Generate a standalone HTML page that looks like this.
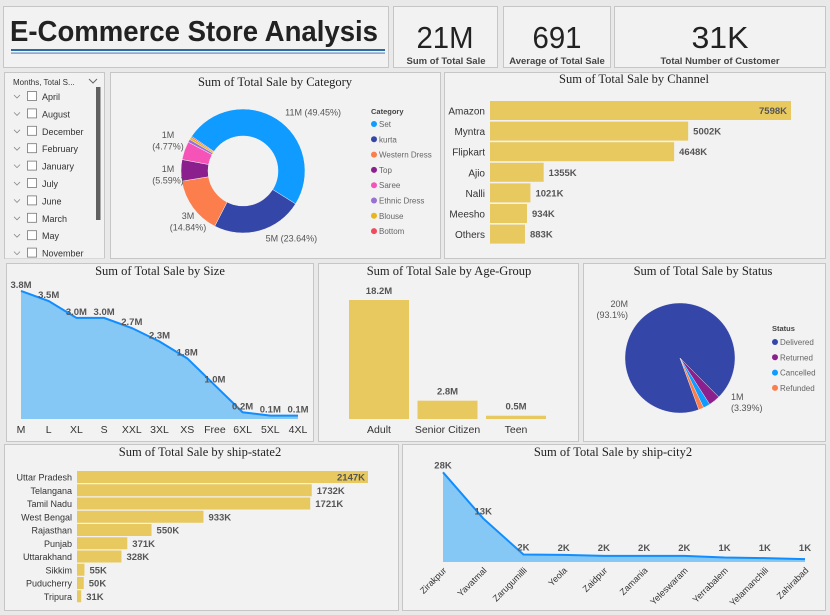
<!DOCTYPE html>
<html><head><meta charset="utf-8"><style>
html,body{margin:0;padding:0;background:#e9e9e9;width:830px;height:615px;overflow:hidden}
svg{display:block;font-family:"Liberation Sans",sans-serif}
.pn{fill:#f2f2f2;stroke:#c6c6c6;stroke-width:1}
.tt{font-family:"Liberation Serif",serif;font-size:12.5px;fill:#222;text-anchor:middle}
.lb{font-size:9.5px;fill:#555;font-weight:bold}
.ax{font-size:10.5px;fill:#333}
.lg{font-size:8px;fill:#666}
</style></head><body>
<svg id="dash" width="830" height="615" viewBox="0 0 830 615" xmlns="http://www.w3.org/2000/svg">
<rect x="0" y="0" width="830" height="615" fill="#e9e9e9"/>
<g>
<rect class="pn" x="3.5" y="6.5" width="385" height="61"/>
<text x="10" y="41" font-size="29" font-weight="bold" fill="#222" textLength="368" lengthAdjust="spacingAndGlyphs">E-Commerce Store Analysis</text>
<rect x="11" y="49" width="374" height="2" fill="#2f6aa3"/>
<rect x="11" y="52.5" width="374" height="1.2" fill="#5d8fc0"/>
</g>
<g>
<rect class="pn" x="393.5" y="6.5" width="104" height="61"/>
<text x="445" y="48" font-size="31" fill="#222" text-anchor="middle" textLength="57" lengthAdjust="spacingAndGlyphs">21M</text>
<text x="446" y="64" font-size="9.5" font-weight="bold" fill="#444" text-anchor="middle">Sum of Total Sale</text>
</g>
<g>
<rect class="pn" x="503.5" y="6.5" width="107" height="61"/>
<text x="557" y="48" font-size="31" fill="#222" text-anchor="middle" textLength="49" lengthAdjust="spacingAndGlyphs">691</text>
<text x="557" y="64" font-size="9.5" font-weight="bold" fill="#444" text-anchor="middle">Average of Total Sale</text>
</g>
<g>
<rect class="pn" x="614.5" y="6.5" width="211" height="61"/>
<text x="720" y="48" font-size="31" fill="#222" text-anchor="middle" textLength="57" lengthAdjust="spacingAndGlyphs">31K</text>
<text x="720" y="64" font-size="9.5" font-weight="bold" fill="#444" text-anchor="middle">Total Number of Customer</text>
</g>
<g>
<rect class="pn" x="4.5" y="72.5" width="100" height="186"/>
<text x="13" y="85" font-size="8" fill="#333">Months, Total S...</text>
<path d="M89 79 l4 4 l4 -4" fill="none" stroke="#666" stroke-width="1"/>
<rect x="96" y="87" width="4.5" height="133" fill="#606060"/>
<g id="slicerItems"></g>
</g>
<g>
<rect class="pn" x="110.5" y="72.5" width="330" height="186"/>
<text class="tt" x="275" y="86">Sum of Total Sale by Category</text>
<text x="371" y="114" font-size="7.5" font-weight="bold" fill="#444">Category</text>
</g>
<g>
<rect class="pn" x="444.5" y="72.5" width="381" height="186"/>
<text class="tt" x="634" y="83">Sum of Total Sale by Channel</text>
</g>
<g>
<rect class="pn" x="6.5" y="263.5" width="307" height="178"/>
<text class="tt" x="160" y="275">Sum of Total Sale by Size</text>
</g>
<g>
<rect class="pn" x="318.5" y="263.5" width="260" height="178"/>
<text class="tt" x="449" y="275">Sum of Total Sale by Age-Group</text>
</g>
<g>
<rect class="pn" x="583.5" y="263.5" width="242" height="178"/>
<text class="tt" x="703" y="275">Sum of Total Sale by Status</text>
<text x="772" y="331" font-size="7.5" font-weight="bold" fill="#444">Status</text>
</g>
<g>
<rect class="pn" x="4.5" y="444.5" width="394" height="166"/>
<text class="tt" x="200" y="456">Sum of Total Sale by ship-state2</text>
</g>
<g>
<rect class="pn" x="402.5" y="444.5" width="423" height="166"/>
<text class="tt" x="613" y="456">Sum of Total Sale by ship-city2</text>
</g>
</svg>
<script>
const months=["April","August","December","February","January","July","June","March","May","November"];
const catNames=["Set","kurta","Western Dress","Top","Saree","Ethnic Dress","Blouse","Bottom"];
const catValues=[49.45,23.64,14.84,5.59,4.77,0.8,0.6,0.31];
const catColors=["#0f9bff","#3446a8","#fb7e4c","#8b1f8e","#f553b8","#9a6fd6","#e8b51a","#f2495c"];
const catLabels=["11M (49.45%)","5M (23.64%)","3M|(14.84%)","1M|(5.59%)","1M|(4.77%)","","",""];
const channelNames=["Amazon","Myntra","Flipkart","Ajio","Nalli","Meesho","Others"];
const channelValues=[7598,5002,4648,1355,1021,934,883];
const sizeCats=["M","L","XL","S","XXL","3XL","XS","Free","6XL","5XL","4XL"];
const sizeValues=[3.8,3.5,3.0,3.0,2.7,2.3,1.8,1.0,0.2,0.1,0.1];
const ageCats=["Adult","Senior Citizen","Teen"];
const ageValues=[18.2,2.8,0.5];
const statusNames=["Delivered","Returned","Cancelled","Refunded"];
const statusValues=[93.1,3.39,2.0,1.5];
const statusColors=["#3446a8","#8b1f8e","#0f9bff","#fb7e4c"];
const stateNames=["Uttar Pradesh","Telangana","Tamil Nadu","West Bengal","Rajasthan","Punjab","Uttarakhand","Sikkim","Puducherry","Tripura"];
const stateValues=[2147,1732,1721,933,550,371,328,55,50,31];
const cityCats=["Zirakpur","Yavatmal","Zarugumilli","Yeola","Zaidpur","Zamania","Yeleswaram","Yerrabalem","Yelamanchili","Zahirabad"];
const cityValues=[27.6,13.4,2.3,2.2,1.9,1.9,1.9,1.4,1.2,0.9];

const NS="http://www.w3.org/2000/svg";
const svg=document.getElementById('dash');
function mk(tag,attrs,txt,parent){const e=document.createElementNS(NS,tag);for(const k in attrs)e.setAttribute(k,attrs[k]);if(txt!==undefined)e.textContent=txt;(parent||svg).appendChild(e);return e;}
const gold="#e8c95f";

// slicer
const si=document.getElementById('slicerItems');
months.forEach((m,i)=>{const y=97+i*17.4;
 let c=mk('path',{d:`M14 ${y-2} l3 3 l3 -3`,fill:'none',stroke:'#888','stroke-width':0.8},undefined,si);
 
 
 let b=mk('rect',{x:27.5,y:y-5.5,width:9,height:9,fill:'#fff',stroke:'#777','stroke-width':0.8},undefined,si);
 
 
 let t=mk('text',{x:42,y:y+3,'font-size':9,fill:'#333'},m,si);
 
 
});
let cov=mk('rect',{x:5,y:258.5,width:100,height:4,fill:'#e9e9e9'});



function arcPath(cx,cy,r0,r1,a0,a1){const p=(r,a)=>[cx+r*Math.sin(a),cy-r*Math.cos(a)];const l=(a1-a0)>Math.PI?1:0;
 const [x1,y1]=p(r1,a0),[x2,y2]=p(r1,a1);
 if(r0===0)return `M${cx} ${cy} L${x1} ${y1} A${r1} ${r1} 0 ${l} 1 ${x2} ${y2} Z`;
 const [x3,y3]=p(r0,a1),[x4,y4]=p(r0,a0);
 return `M${x1} ${y1} A${r1} ${r1} 0 ${l} 1 ${x2} ${y2} L${x3} ${y3} A${r0} ${r0} 0 ${l} 0 ${x4} ${y4} Z`;}
// donut
{const tot=catValues.reduce((a,b)=>a+b,0);let a=-56*Math.PI/180;const cx=243,cy=171;
 const leftY=[null,null,219,172,138];
 catValues.forEach((v,i)=>{const a1=a+v/tot*2*Math.PI;
  let s=mk('path',{d:arcPath(cx,cy,35,62,a,a1),fill:catColors[i],stroke:'#f2f2f2','stroke-width':0.5});
  
  
  const mid=(a+a1)/2;
  if(catLabels[i]){const parts=catLabels[i].split('|');const right=Math.sin(mid)>0;
   let lx,ly;
   if(right){lx=cx+70*Math.sin(mid)+4;ly=cy-70*Math.cos(mid)+3;}
   else{lx=i===2?188:168;ly=leftY[i];}
   parts.forEach((p,k)=>{let t=mk('text',{x:lx,y:ly+k*11.5,'font-size':9,fill:'#555','text-anchor':right?'start':'middle'},p);
    
    });}
  a=a1;});
 catNames.forEach((n,i)=>{const y=124+i*15.3;
  let d=mk('circle',{cx:374,cy:y,r:3,fill:catColors[i]});
  
  
  let t=mk('text',{x:379,y:y+3,class:'lg'},n);
  
  });
}

// channel
{const x=v=>490+v*301/7598;
 channelNames.forEach((n,i)=>{const y=101+i*20.6;
  let r=mk('rect',{x:490,y:y,width:x(channelValues[i])-490,height:19,fill:gold});
  
  
  let t=mk('text',{x:485,y:y+13.5,'font-size':10,fill:'#333','text-anchor':'end'},n);
  
  
  const inside=i===0;
  let v=mk('text',{x:inside?x(channelValues[i])-4:x(channelValues[i])+5,y:y+13,class:'lb','font-size':8.5,'text-anchor':inside?'end':'start'},channelValues[i]+'K');
  
  });
}

// size area
{const x=i=>21+i*277/(sizeCats.length-1),y=v=>419-v*33.7;
 let pts=sizeValues.map((v,i)=>x(i)+','+y(v)).join(' ');
 let ar=mk('polygon',{points:`${x(0)},419 ${pts} ${x(sizeValues.length-1)},419`,fill:'#85c8f5'});
 
 
 let ln=mk('polyline',{points:pts,fill:'none',stroke:'#118dff','stroke-width':2});
 
 
 sizeValues.forEach((v,i)=>{let t=mk('text',{x:x(i),y:y(v)-3,class:'lb','font-size':8.5,'text-anchor':'middle'},v.toFixed(1)+'M');
  
  
  let c=mk('text',{x:x(i),y:433,class:'ax','font-size':9.5,'text-anchor':'middle'},sizeCats[i]);
  
  });
}

// age bars
{const y=v=>419-v*119/18.2;
 ageCats.forEach((n,i)=>{const cx=379+i*68.5;
  let r=mk('rect',{x:cx-30,y:y(ageValues[i]),width:60,height:419-y(ageValues[i]),fill:gold});
  
  
  let v=mk('text',{x:cx,y:y(ageValues[i])-6,class:'lb','font-size':8.5,'text-anchor':'middle'},ageValues[i].toFixed(1)+'M');
  
  
  let c=mk('text',{x:cx,y:433,class:'ax','font-size':9.5,'text-anchor':'middle'},n);
  
  });
}

// status pie
{const tot=statusValues.reduce((a,b)=>a+b,0);let a=160*Math.PI/180;const cx=680,cy=358;
 statusValues.forEach((v,i)=>{const a1=a+v/tot*2*Math.PI;
  let s=mk('path',{d:arcPath(cx,cy,0,55,a,a1),fill:statusColors[i],stroke:'#f2f2f2','stroke-width':0.4});
  
  
  a=a1;});
 [["20M",628,307],["(93.1%)",628,318],["1M",731,400],["(3.39%)",731,411]].forEach((l,k)=>{
  let t=mk('text',{x:l[1],y:l[2],'font-size':9,fill:'#555','text-anchor':k<2?'end':'start'},l[0]);
  
  });
 statusNames.forEach((n,i)=>{const y=342+i*15.3;
  let d=mk('circle',{cx:775,cy:y,r:3,fill:statusColors[i]});
  
  
  let t=mk('text',{x:780,y:y+3,class:'lg'},n);
  
  });
}

// state bars
{const x=v=>77+v*291/2147;
 stateNames.forEach((n,i)=>{const y=471+i*13.25;
  let r=mk('rect',{x:77,y:y,width:x(stateValues[i])-77,height:12,fill:gold});
  
  
  let t=mk('text',{x:72,y:y+9.5,'font-size':9,fill:'#333','text-anchor':'end'},n);
  
  
  const inside=i===0;
  let v=mk('text',{x:inside?x(stateValues[i])-3:x(stateValues[i])+5,y:y+9.5,class:'lb','font-size':8.5,'text-anchor':inside?'end':'start'},stateValues[i]+'K');
  
  });
}

// city area
{const x=i=>443+i*362/(cityCats.length-1),y=v=>562-v*91/28;
 let pts=cityValues.map((v,i)=>x(i)+','+y(v)).join(' ');
 let ar=mk('polygon',{points:`${x(0)},562 ${pts} ${x(cityValues.length-1)},562`,fill:'#85c8f5'});
 
 
 let ln=mk('polyline',{points:pts,fill:'none',stroke:'#118dff','stroke-width':2});
 
 
 cityValues.forEach((v,i)=>{let t=mk('text',{x:x(i),y:Math.min(y(v)-4,551),class:'lb','font-size':8.5,'text-anchor':'middle'},Math.round(v)+'K');
  
  
  let c=mk('text',{x:x(i)+4,y:571,'font-size':9,fill:'#333','text-anchor':'end',transform:`rotate(-45 ${x(i)+4} 571)`},cityCats[i]);
  
  });
}
</script>
</body></html>
